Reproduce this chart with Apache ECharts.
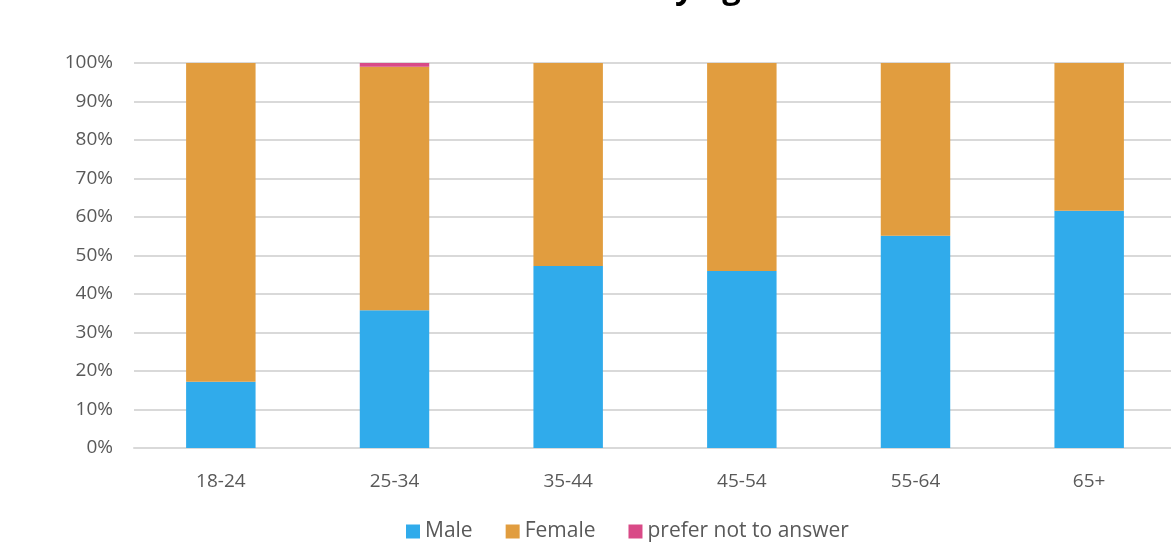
<!DOCTYPE html>
<html lang="en">
<head>
    <meta charset="UTF-8">
    <title>Gender by age</title>
    <script src="https://cdn.jsdelivr.net/npm/echarts@6/dist/echarts.min.js"></script>
    <style>
        html, body { margin: 0; padding: 0; background: #fff; }
    </style>
</head>
<body>
    <div id="main" style="width: 1171px;height:543px;"></div>
    <script type="text/javascript">
        // data (percent of each age group)
        var ageGroups = ['18-24', '25-34', '35-44', '45-54', '55-64', '65+'];
        var male = [17.2, 35.8, 47.3, 46.0, 55.1, 61.6];
        var female = [82.8, 63.2, 52.7, 54.0, 44.9, 38.4];
        var preferNot = [0, 1.0, 0, 0, 0, 0];

        var myChart = echarts.init(document.getElementById('main'));
        var labelFont = '"Open Sans", sans-serif';

        var option = {
            animation: false,
            // title is mostly cut off at the top edge in the original
            title: {
                text: 'Gender by age',
                left: 520,
                top: -33,
                textStyle: { fontSize: 33, fontWeight: 'bold', color: '#000', fontFamily: labelFont }
            },
            legend: {
                data: ['Male', 'Female', 'prefer not to answer'],
                top: 516,
                left: 401,
                itemWidth: 14,
                itemHeight: 14,
                itemGap: 33,
                icon: 'rect',
                textStyle: { fontSize: 21, color: '#595959', fontFamily: labelFont }
            },
            grid: {
                left: 134,
                top: 63,
                width: 1042,
                height: 385,
                outerBoundsMode: 'none' // plot runs a little past the right edge, as in the original
            },
            xAxis: {
                type: 'category',
                data: ageGroups,
                axisTick: { show: false },
                axisLine: { lineStyle: { color: '#D9D9D9', width: 2 } },
                axisLabel: { color: '#595959', fontSize: 19, margin: 24, fontFamily: labelFont }
            },
            yAxis: {
                type: 'value',
                min: 0,
                max: 100,
                interval: 10,
                axisLabel: { formatter: '{value}%', color: '#595959', fontSize: 19, margin: 21, fontFamily: labelFont },
                splitLine: { lineStyle: { color: '#D9D9D9', width: 2 } }
            },
            series: [
                { name: 'Male', type: 'bar', stack: 'total', data: male, barWidth: '40%',
                  itemStyle: { color: '#30ABEB' } },
                { name: 'Female', type: 'bar', stack: 'total', data: female,
                  itemStyle: { color: '#E19D3F' } },
                { name: 'prefer not to answer', type: 'bar', stack: 'total', data: preferNot,
                  itemStyle: { color: '#D94A87' } }
            ]
        };

        myChart.setOption(option);
    </script>
</body>
</html>
